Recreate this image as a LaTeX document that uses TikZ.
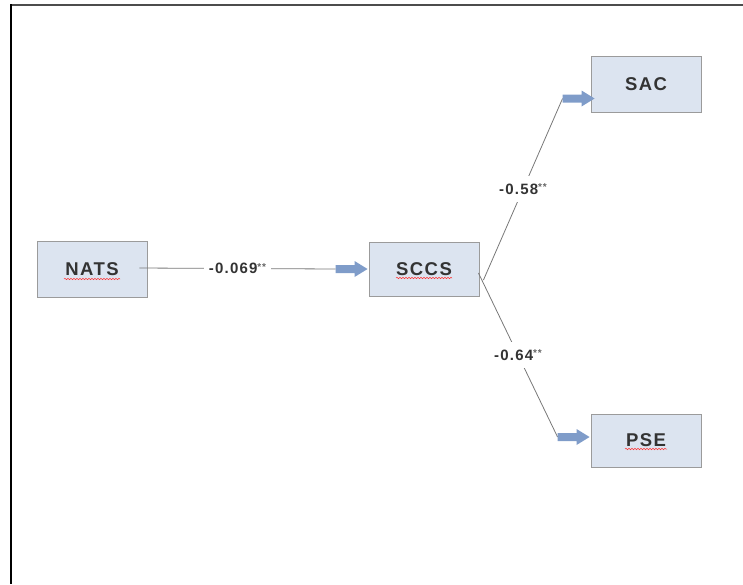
\documentclass[tikz,border=0pt]{standalone}
\usepackage{fontspec}
\setmainfont{Liberation Sans}
\newfontfamily\boxfont{Liberation Sans}[LetterSpace=8]
\usetikzlibrary{calc,decorations.pathmorphing}
\definecolor{boxfill}{RGB}{220,228,240}
\definecolor{boxline}{RGB}{155,155,155}
\definecolor{arrowblue}{RGB}{127,156,201}
\definecolor{linegray}{RGB}{120,120,120}
\definecolor{txt}{RGB}{51,51,51}
\newcommand\stars{\raisebox{3.5pt}{\color{txt!75}\fontsize{10}{10}\selectfont **}}
\newcommand\fatarrow[1]{\fill[arrowblue] (#1) ++(0,-4) -- ++(19,0) -- ++(0,-4) -- ++(13,8) -- ++(-13,8) -- ++(0,-4) -- ++(-19,0) -- cycle;}
\begin{document}
\begin{tikzpicture}[x=1pt,y=-1pt,
  varbox/.style={draw=boxline,line width=0.9pt,fill=boxfill,minimum width=110pt,minimum height=55pt,inner sep=0pt,text=txt,font={\boxfont\bfseries\fontsize{18.5}{18.5}\selectfont}},
  conn/.style={draw=linegray,line width=0.8pt},
  coef/.style={fill=white,inner xsep=5pt,inner ysep=7.5pt,text=txt,font={\boxfont\bfseries\fontsize{15}{15}\selectfont}},
  squiggle/.style={draw=red!80,line width=0.5pt,decorate,decoration={snake,segment length=3pt,amplitude=0.7pt}}]
\useasboundingbox (0,0) rectangle (743,584);
\draw[black!70,line width=1.2pt] (11,5) -- (743,5);
\draw[black,line width=1.2pt] (11,4.4) -- (11,584);
% boxes
\node[varbox,minimum height=56pt] (nats) at (92,269) {NATS};
\node[varbox,minimum height=54pt] (sccs) at (424,269) {SCCS};
\node[varbox,minimum height=56pt] (sac) at (646,84) {SAC};
\node[varbox,minimum height=53pt] (pse) at (646,440.5) {PSE};
% spell-check marks
\draw[squiggle] ($(nats.center)+(-28,10)$) -- ($(nats.center)+(28,10)$);
\draw[squiggle] ($(sccs.center)+(-28,9)$) -- ($(sccs.center)+(28,9)$);
\draw[squiggle] ($(pse.center)+(-21,8.5)$) -- ($(pse.center)+(21,8.5)$);
% connectors
\coordinate (n1) at ($(nats.east)+(-8,-1)$);
\coordinate (s1) at ($(sccs.west)+(-33,0)$);
\draw[conn] (n1) -- (s1) node[coef,midway] {-0.069\stars};
\fatarrow{s1}
\coordinate (c1) at ($(sccs.east)+(4,11)$);
\coordinate (sacin) at ($(sac.west)+(-28,14.5)$);
\draw[conn] (c1) -- (sacin) node[coef,midway] {-0.58\stars};
\fatarrow{sacin}
\coordinate (c2) at ($(sccs.east)+(-1,4)$);
\coordinate (psein) at ($(pse.west)+(-33,-3.5)$);
\draw[conn] (c2) -- (psein) node[coef,midway] {-0.64\stars};
\fatarrow{psein}
\end{tikzpicture}
\end{document}
